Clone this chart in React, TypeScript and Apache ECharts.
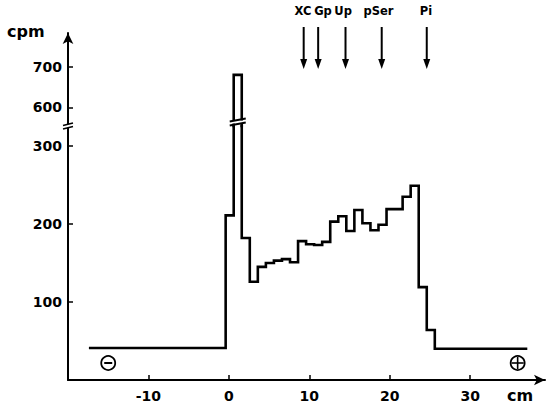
import { useEffect, useRef } from "react";
import * as echarts from "echarts";

// Step histogram: bin edges (cm) and counts (cpm) for each bin
const binEdges = [-17.4, -0.4, 0.6, 1.6, 2.6, 3.6, 4.6, 5.6, 6.6, 7.6, 8.6, 9.6, 10.6, 11.6, 12.6, 13.6, 14.6, 15.6, 16.6, 17.6, 18.6, 19.6, 20.6, 21.6, 22.6, 23.6, 24.6, 25.6, 37.1];
const binCounts = [41, 211, 680, 182, 126, 145, 150, 153, 155, 151, 178, 174, 173, 177, 203, 210, 191, 218, 201, 192, 199, 219, 219, 235, 249, 119, 64, 40];

const xTickValues = [-10, 0, 10, 20, 30];
const yTicksLower = [100, 200, 300];
const yTicksUpper = [600, 700];

const markerNames = ["XC", "Gp", "Up", "pSer", "Pi"];
const markerPositions = [9.3, 11.1, 14.5, 19.0, 24.6];
const markerLabelPositions = [9.2, 11.7, 14.2, 18.6, 24.5];

const FONT = "DejaVu Sans";

export default function App() {
  const ref = useRef<HTMLDivElement>(null);

  useEffect(() => {
    if (!ref.current) return;
    document.body.style.margin = "0";
    const chart = echarts.init(ref.current, undefined, { renderer: "svg" });

    const lineData = binEdges.map((e, i) => [e, binCounts[Math.min(i, binCounts.length - 1)]]);

    const axisLineStyle = { color: "#000", width: 2 };
    const labelStyle = { color: "#000", fontFamily: FONT, fontWeight: "bold" as const, fontSize: 14 };

    chart.setOption({
      animation: false,
      backgroundColor: "#fff",
      grid: [
        { left: 68, right: 5, top: 126, bottom: 27 },
        { left: 68, right: 5, top: 33, height: 93 },
      ],
      xAxis: [
        {
          gridIndex: 0,
          type: "value",
          min: -20,
          max: 39.3,
          interval: 10,
          axisLine: { show: true, onZero: false, lineStyle: axisLineStyle, symbol: ["none", "arrow"], symbolSize: [8, 11] },
          axisTick: { show: true, inside: true, length: 5, customValues: xTickValues, lineStyle: { color: "#000", width: 1.5 } },
          axisLabel: { ...labelStyle, customValues: xTickValues, margin: 9 },
          splitLine: { show: false },
        },
        { gridIndex: 1, type: "value", min: -20, max: 39.3, show: false },
      ],
      yAxis: [
        {
          gridIndex: 0,
          type: "value",
          min: 0,
          max: 325.6,
          interval: 100,
          axisLine: { show: true, onZero: false, lineStyle: axisLineStyle },
          axisTick: { show: true, inside: true, length: 5, customValues: yTicksLower, lineStyle: { color: "#000", width: 1.5 } },
          axisLabel: { ...labelStyle, customValues: yTicksLower, margin: 6 },
          splitLine: { show: false },
        },
        {
          gridIndex: 1,
          type: "value",
          min: 554,
          max: 783,
          axisLine: { show: true, onZero: false, lineStyle: axisLineStyle, symbol: ["none", "arrow"], symbolSize: [8, 11] },
          axisTick: { show: true, inside: true, length: 5, customValues: yTicksUpper, lineStyle: { color: "#000", width: 1.5 } },
          axisLabel: { ...labelStyle, customValues: yTicksUpper, margin: 6 },
          splitLine: { show: false },
        },
      ],
      series: [0, 1].map((gi) => ({
        type: "line",
        xAxisIndex: gi,
        yAxisIndex: gi,
        data: lineData,
        step: "end",
        symbol: "none",
        showSymbol: false,
        clip: true,
        silent: true,
        lineStyle: { color: "#000", width: 2.6, join: "miter" },
      })),
    });

    const px = (x: number, y: number) => chart.convertToPixel({ gridIndex: 0 }, [x, y]) as number[];
    const axisX = px(-20, 0)[0];
    const breakY = px(0, 325.6)[1];
    const peakL = px(binEdges[2], 0)[0];
    const peakR = px(binEdges[3], 0)[0];
    const baseY = px(0, 0)[1];

    const graphics: any[] = [];
    // axis break
    graphics.push({ type: "rect", z: 100, shape: { x: axisX - 4, y: breakY - 2, width: 8, height: 4 }, style: { fill: "#fff" } });
    graphics.push({ type: "line", z: 101, shape: { x1: axisX - 5, y1: breakY - 0.5, x2: axisX + 5, y2: breakY - 3 }, style: { stroke: "#000", lineWidth: 1.6 } });
    graphics.push({ type: "line", z: 101, shape: { x1: axisX - 5, y1: breakY + 3, x2: axisX + 5, y2: breakY + 0.5 }, style: { stroke: "#000", lineWidth: 1.6 } });
    // peak break
    const pb = breakY - 4;
    graphics.push({ type: "rect", z: 100, shape: { x: peakL - 2, y: pb - 1.5, width: peakR - peakL + 4, height: 3 }, style: { fill: "#fff" } });
    graphics.push({ type: "line", z: 101, shape: { x1: peakL - 4, y1: pb - 0.5, x2: peakR + 4, y2: pb - 3.5 }, style: { stroke: "#000", lineWidth: 1.8 } });
    graphics.push({ type: "line", z: 101, shape: { x1: peakL - 4, y1: pb + 3.5, x2: peakR + 4, y2: pb + 0.5 }, style: { stroke: "#000", lineWidth: 1.8 } });

    // migration markers
    markerNames.forEach((name, i) => {
      const ax = px(markerPositions[i], 0)[0];
      const lx = px(markerLabelPositions[i], 0)[0];
      graphics.push({ type: "line", z: 100, shape: { x1: ax, y1: 27, x2: ax, y2: 61 }, style: { stroke: "#000", lineWidth: 2 } });
      graphics.push({ type: "polygon", z: 100, shape: { points: [[ax - 3.5, 59], [ax + 3.5, 59], [ax, 69]] }, style: { fill: "#000" } });
      graphics.push({
        type: "text", z: 100, x: lx, y: 11,
        style: { text: name, fontFamily: FONT, fontWeight: "bold", fontSize: 11.5, fill: "#000", align: "center", verticalAlign: "middle" },
      });
    });

    // electrode symbols
    const minusX = px(-15, 0)[0];
    const plusX = px(35.9, 0)[0];
    const symY = baseY - 17;
    graphics.push({ type: "circle", z: 100, shape: { cx: minusX, cy: symY, r: 7 }, style: { fill: "none", stroke: "#000", lineWidth: 1.8 } });
    graphics.push({ type: "line", z: 100, shape: { x1: minusX - 4, y1: symY, x2: minusX + 4, y2: symY }, style: { stroke: "#000", lineWidth: 2 } });
    graphics.push({ type: "circle", z: 100, shape: { cx: plusX, cy: symY, r: 7 }, style: { fill: "none", stroke: "#000", lineWidth: 1.8 } });
    graphics.push({ type: "line", z: 100, shape: { x1: plusX - 6, y1: symY, x2: plusX + 6, y2: symY }, style: { stroke: "#000", lineWidth: 1.6 } });
    graphics.push({ type: "line", z: 100, shape: { x1: plusX, y1: symY - 6, x2: plusX, y2: symY + 6 }, style: { stroke: "#000", lineWidth: 1.6 } });

    // axis titles
    graphics.push({ type: "text", z: 100, x: 7, y: 31, style: { text: "cpm", fontFamily: FONT, fontWeight: "bold", fontSize: 16, fill: "#000", align: "left", verticalAlign: "middle" } });
    graphics.push({ type: "text", z: 100, x: 520, y: 395, style: { text: "cm", fontFamily: FONT, fontWeight: "bold", fontSize: 16, fill: "#000", align: "center", verticalAlign: "middle" } });

    chart.setOption({ graphic: graphics });

    return () => chart.dispose();
  }, []);

  return <div ref={ref} style={{ position: "absolute", left: 0, top: 0, width: 550, height: 407 }} />;
}
